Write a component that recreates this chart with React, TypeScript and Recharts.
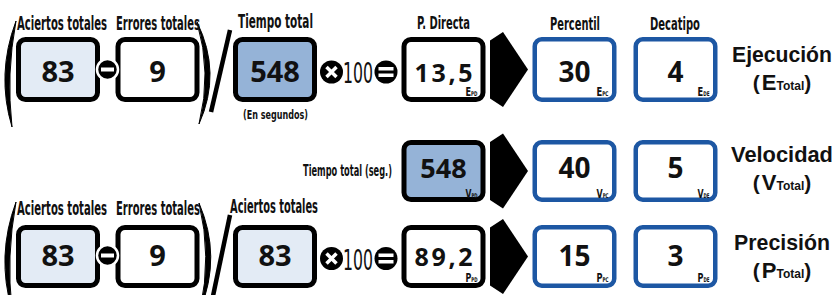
import { useLayoutEffect, useRef, useState } from "react";
import { ScatterChart, Scatter, XAxis, YAxis } from "recharts";

// --- datos ---
const rowNames = ["Ejecución", "Velocidad", "Precisión"];
const rowLetters = ["E", "V", "P"];
const headerLabels = ["Aciertos totales", "Errores totales", "Tiempo total", "P. Directa", "Percentil", "Decatipo"];
const aciertos = [83, 83]; // filas de Ejecución y Precisión
const errores = [9, 9];
const divisores = [548, 83];
const divisorLabels = ["Tiempo total", "Aciertos totales"];
const divisorNote = "(En segundos)";
const velocidadLabel = "Tiempo total (seg.)";
const directas = ["13,5", "548", "89,2"];
const percentiles = [30, 40, 15];
const decatipos = [4, 5, 3];
const subIndex = ["PD", "PC", "DE"];
const factor = "100";

// --- layout ---
const NARROW = "'Liberation Sans Narrow', 'Arial Narrow', 'DejaVu Sans Condensed', sans-serif";
const NUM = "'Open Sans', 'DejaVu Sans', sans-serif";
const ARIAL = "'Liberation Sans', Arial, sans-serif";
const LIGHT = "#e3ebf5";
const MID = "#95b3d7";
const BLUE = "#1d57a3";

const COL_X = [58, 157.5, 275, 443.5, 574.5, 675.5];
const BOX_W = 84;
const ROW_Y = [69.5, 171, 256.5];
const BOX_H = [65, 62, 63];
const NUM_BASE = [12.5, 7, 9.5];
const SUB_BASE = [6, 4, 6];
const FORMULA_ROWS = [0, 2];

const boxPoints: any[] = [];
FORMULA_ROWS.forEach((r, i) => {
  const common = { y: ROW_Y[r], w: BOX_W, h: BOX_H[r], stroke: "#000", sw: 5, base: NUM_BASE[r], size: 29, weight: 700 };
  boxPoints.push({ ...common, x: COL_X[0], fill: LIGHT, value: aciertos[i] });
  boxPoints.push({ ...common, x: COL_X[1], fill: "#fff", value: errores[i] });
  boxPoints.push({ ...common, x: COL_X[2], fill: r === 0 ? MID : LIGHT, value: divisores[i] });
});
rowNames.forEach((_, r) => {
  const common = { y: ROW_Y[r], w: BOX_W, h: BOX_H[r], base: NUM_BASE[r], subBase: SUB_BASE[r], sub: rowLetters[r] };
  const isTime = r === 1;
  boxPoints.push({
    ...common, x: COL_X[3], fill: isTime ? MID : "#fff", stroke: "#000", sw: 5,
    value: directas[r], size: isTime ? 27 : 25, weight: 700, len: isTime ? undefined : 58, subSmall: subIndex[0],
  });
  boxPoints.push({ ...common, x: COL_X[4], fill: "#fff", stroke: BLUE, sw: 4.5, value: percentiles[r], size: 28, weight: 700, subSmall: subIndex[1] });
  boxPoints.push({ ...common, x: COL_X[5], fill: "#fff", stroke: BLUE, sw: 4.5, value: decatipos[r], size: 28, weight: 700, subSmall: subIndex[2] });
});

const labelPoints = [
  { x: 62, y: 30, text: headerLabels[0], len: 90, size: 20 },
  { x: 158, y: 30, text: headerLabels[1], len: 84, size: 20 },
  { x: 275.5, y: 28, text: divisorLabels[0], len: 75, size: 20 },
  { x: 275.5, y: 119, text: divisorNote, len: 65, size: 13 },
  { x: 443.5, y: 29, text: headerLabels[3], len: 53, size: 18 },
  { x: 575, y: 30, text: headerLabels[4], len: 50, size: 18 },
  { x: 675, y: 30, text: headerLabels[5], len: 50, size: 18 },
  { x: 392, y: 176, text: velocidadLabel, len: 89, size: 15, anchor: "end" },
  { x: 62, y: 215, text: headerLabels[0], len: 90, size: 20 },
  { x: 158, y: 215, text: headerLabels[1], len: 84, size: 20 },
  { x: 274, y: 213, text: divisorLabels[1], len: 88, size: 20 },
  { x: 358, y: ROW_Y[0] + 13.5, text: factor, len: 30, size: 29, weight: 400 },
  { x: 358, y: ROW_Y[2] + 13.5, text: factor, len: 30, size: 29, weight: 400 },
];

const titlePoints = rowNames.map((name, r) => ({
  x: 782, y: [62, 162, 250][r], text: name, letter: rowLetters[r], len: [100, 102, 96][r],
}));

const opPoints = [
  { x: 107.5, y: ROW_Y[0], kind: "minus" },
  { x: 107.5, y: ROW_Y[2] - 1, kind: "minus" },
  { x: 331.5, y: ROW_Y[0] + 2.5, kind: "times" },
  { x: 331.5, y: ROW_Y[2] + 2, kind: "times" },
  { x: 386, y: ROW_Y[0] + 2.5, kind: "equals" },
  { x: 386, y: ROW_Y[2] + 2, kind: "equals" },
];

const parenPoints = [
  { x: 16, y: 74, hh: 53, endDx: -4, outer: -20, inner: -10 },
  { x: 197, y: 73, hh: 51, endDx: 2, outer: 25, inner: 15 },
  { x: 16, y: 256, hh: 54, endDx: -4, outer: -20, inner: -10 },
  { x: 199, y: 256.5, hh: 53.5, endDx: 1, outer: 23, inner: 13 },
];

const slashPoints = [
  { x: 220.5, y: 71, dx: 9.5, hh: 41 },
  { x: 221.5, y: 255.5, dx: 8.5, hh: 40.5 },
];

const arrowPoints = ROW_Y.map((y) => ({ x: 509, y }));

// text squeezed horizontally to a given width (condensed look)
const FitText = ({ x, y, width, anchor = "start", children, ...rest }: any) => {
  const ref = useRef<SVGTextElement>(null);
  const [sx, setSx] = useState(1);
  useLayoutEffect(() => {
    if (ref.current) {
      const w = ref.current.getComputedTextLength();
      if (w > 0) setSx(width / w);
    }
  }, [width]);
  return (
    <text ref={ref} transform={`translate(${x} ${y}) scale(${sx} 1)`} textAnchor={anchor} {...rest}>
      {children}
    </text>
  );
};

// --- marcas ---
const BoxMark = (props: any) => {
  const { cx, cy, payload } = props;
  const { w, h, fill, stroke, sw, value, size, weight, len, base, sub, subSmall, subBase } = payload;
  return (
    <g>
      <rect x={cx - w / 2 + sw / 2} y={cy - h / 2 + sw / 2} width={w - sw} height={h - sw} rx={7} fill={fill} stroke={stroke} strokeWidth={sw} />
      <text x={cx} y={cy + base} textAnchor="middle" fontFamily={NUM} fontSize={size} fontWeight={weight} fill="#111"
        textLength={len} lengthAdjust={len ? "spacing" : undefined}>{value}</text>
      {sub && (
        <FitText x={cx + w / 2 - 20} y={cy + h / 2 - subBase} width={12} fontFamily={NARROW} fontWeight={700} fontSize={13} fill="#111">
          {sub}<tspan fontSize={6.5}>{subSmall}</tspan>
        </FitText>
      )}
    </g>
  );
};

const LabelMark = (props: any) => {
  const { cx, cy, payload } = props;
  return (
    <FitText x={cx} y={cy} width={payload.len} anchor={payload.anchor || "middle"} fontFamily={NARROW}
      fontWeight={payload.weight ?? 700} fontSize={payload.size} fill="#111">
      {payload.text}
    </FitText>
  );
};

const TitleMark = (props: any) => {
  const { cx, cy, payload } = props;
  return (
    <g fontFamily={ARIAL} fontWeight={700} fill="#111">
      <FitText x={cx} y={cy} width={payload.len} anchor="middle" fontSize={22}>{payload.text}</FitText>
      <text x={cx} y={cy + 28} textAnchor="middle" fontSize={21}>
        (<tspan dx={2} fontSize={22}>{payload.letter}</tspan><tspan fontSize={12}>Total</tspan>)
      </text>
    </g>
  );
};

const OpMark = (props: any) => {
  const { cx, cy, payload } = props;
  if (payload.kind === "minus") {
    return (
      <g>
        <circle cx={cx} cy={cy} r={10.5} fill="#000" stroke="#fff" strokeWidth={2.5} />
        <rect x={cx - 6.5} y={cy - 2} width={13} height={4} fill="#fff" />
      </g>
    );
  }
  if (payload.kind === "times") {
    return (
      <g>
        <circle cx={cx} cy={cy} r={11.5} fill="#000" />
        <path d={`M${cx - 5} ${cy - 5}L${cx + 5} ${cy + 5}M${cx + 5} ${cy - 5}L${cx - 5} ${cy + 5}`} stroke="#fff" strokeWidth={3.5} />
      </g>
    );
  }
  return (
    <g>
      <circle cx={cx} cy={cy} r={11.5} fill="#000" />
      <rect x={cx - 7.5} y={cy - 5} width={15} height={3.5} fill="#fff" />
      <rect x={cx - 7.5} y={cy + 1.5} width={15} height={3.5} fill="#fff" />
    </g>
  );
};

const ParenMark = (props: any) => {
  const { cx, cy, payload } = props;
  const { hh, endDx, outer, inner } = payload;
  const bx = cx + endDx;
  const d = `M${cx} ${cy - hh}Q${cx + outer} ${cy} ${bx} ${cy + hh}Q${cx + inner} ${cy} ${cx} ${cy - hh}Z`;
  return <path d={d} fill="#000" stroke="#000" strokeWidth={1} />;
};

const SlashMark = (props: any) => {
  const { cx, cy, payload } = props;
  return <line x1={cx + payload.dx} y1={cy - payload.hh} x2={cx - payload.dx} y2={cy + payload.hh} stroke="#000" strokeWidth={4.5} />;
};

const ArrowMark = (props: any) => {
  const { cx, cy } = props;
  const pts = [
    [cx - 19, cy - 29], [cx - 6, cy - 37.5], [cx + 19, cy], [cx - 6, cy + 37.5], [cx - 19, cy + 29],
  ].map((p) => p.join(",")).join(" ");
  return <polygon points={pts} fill="#000" />;
};

export default function App() {
  return (
    <div style={{ position: "absolute", left: 0, top: 0, background: "#fff" }}>
      <ScatterChart width={836} height={295} margin={{ top: 0, right: 0, bottom: 0, left: 0 }}>
        <XAxis type="number" dataKey="x" domain={[0, 836]} hide allowDataOverflow />
        <YAxis type="number" dataKey="y" domain={[0, 295]} reversed hide allowDataOverflow />
        <Scatter data={arrowPoints} shape={ArrowMark} isAnimationActive={false} />
        <Scatter data={boxPoints} shape={BoxMark} isAnimationActive={false} />
        <Scatter data={parenPoints} shape={ParenMark} isAnimationActive={false} />
        <Scatter data={slashPoints} shape={SlashMark} isAnimationActive={false} />
        <Scatter data={opPoints} shape={OpMark} isAnimationActive={false} />
        <Scatter data={labelPoints} shape={LabelMark} isAnimationActive={false} />
        <Scatter data={titlePoints} shape={TitleMark} isAnimationActive={false} />
      </ScatterChart>
    </div>
  );
}
